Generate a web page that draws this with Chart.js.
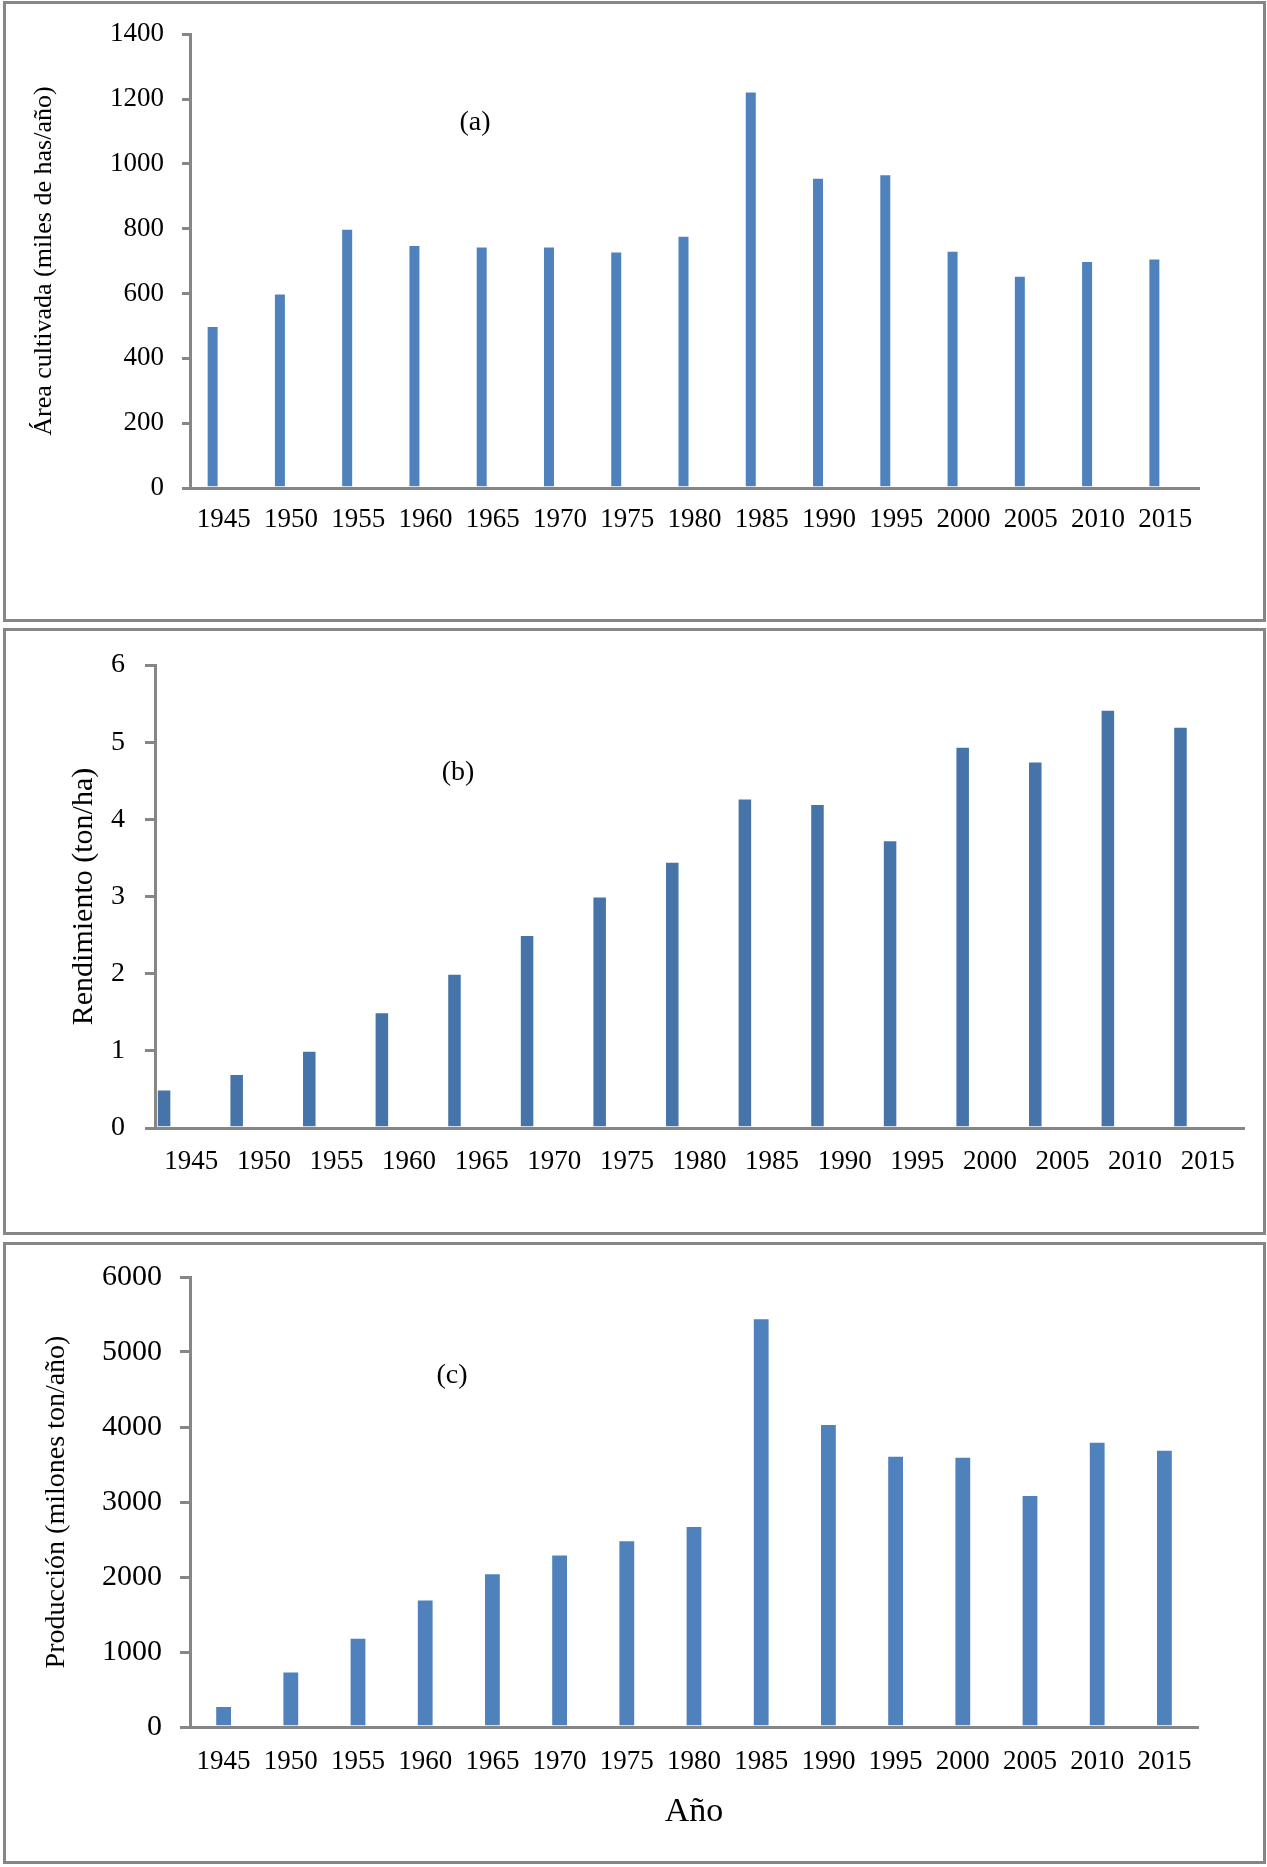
<!DOCTYPE html>
<html>
<head>
<meta charset="utf-8">
<script src="https://cdn.jsdelivr.net/npm/chart.js@4.4.1/dist/chart.umd.min.js"></script>
<style>
  html, body { margin: 0; padding: 0; background: #fff; }
  body { width: 1267px; height: 1867px; position: relative; overflow: hidden;
         font-family: "Liberation Serif", "Times New Roman", serif; }
  .box { position: absolute; border: 3px solid #868686; box-sizing: border-box; }
  canvas { position: absolute; left: 0; }
  .tag { position: absolute; font-size: 28px; transform: translate(-50%, -50%); color: #000; }
</style>
</head>
<body>
<div class="box" style="left:3px; top:1px; width:1263px; height:621px;"></div>
<div class="box" style="left:3px; top:628px; width:1263px; height:607px;"></div>
<div class="box" style="left:3px; top:1242px; width:1263px; height:622px;"></div>

<canvas id="chartA" width="1267" height="624" style="top:0px"></canvas>
<canvas id="chartB" width="1267" height="610" style="top:628px"></canvas>
<canvas id="chartC" width="1267" height="626" style="top:1241px"></canvas>

<div class="tag" style="left:475px; top:121px">(a)</div>
<div class="tag" style="left:458px; top:771px">(b)</div>
<div class="tag" style="left:452px; top:1374px">(c)</div>

<script>
const years = ["1945", "1950", "1955", "1960", "1965", "1970", "1975", "1980",
               "1985", "1990", "1995", "2000", "2005", "2010", "2015"];

// (a) área cultivada, miles de has/año
const areaValues = [500, 600, 800, 750, 745, 745, 730, 778, 1223, 957, 968, 732, 655, 700, 708];
// (b) rendimiento, ton/ha
const yieldValues = [0.5, 0.7, 1.0, 1.5, 2.0, 2.5, 3.0, 3.45, 4.27, 4.2, 3.73, 4.94, 4.75, 5.42, 5.2];
// (c) producción, milones ton/año
const prodValues = [280, 740, 1190, 1700, 2050, 2300, 2490, 2680, 5450, 4040, 3618, 3605, 3092, 3803, 3697];

const axisGray = "#868686";
Chart.defaults.font.family = "'Liberation Serif', 'Times New Roman', serif";
Chart.defaults.color = "#000";

function barChart(id, p) {
  // the original plots the real series next to empty ones, so bars sit left of the label
  const datasets = [{
    data: p.values,
    backgroundColor: p.color,
    borderColor: "rgba(255,255,255,0.45)",
    borderWidth: 1,
    categoryPercentage: p.catPct,
    barPercentage: p.barPct
  }];
  for (let i = 1; i < p.series; i++) {
    datasets.push({ data: [], categoryPercentage: p.catPct, barPercentage: p.barPct });
  }

  const scales = {
    x: {
      grid: { display: false, drawTicks: false },
      border: { color: axisGray, width: 3 },
      ticks: { padding: p.xPad, font: { size: 27 }, maxRotation: 0, autoSkip: false },
      afterFit: (s) => { s.height = p.xHeight; }
    },
    y: {
      min: 0, max: p.yMax,
      ticks: {
        stepSize: p.yStep, padding: p.yPad, font: { size: p.yFont },
        callback: (v) => String(v)   // no thousands separator
      },
      grid: { drawOnChartArea: false, drawTicks: true, tickLength: p.tickLen, color: axisGray, lineWidth: 3 },
      border: { color: axisGray, width: 3 },
      title: { display: true, text: p.yTitle, font: { size: p.yTitleFont }, padding: { top: p.yTitlePad, bottom: 0 } },
      afterFit: (s) => { s.width = p.yWidth; }
    }
  };
  if (p.xTitle) {
    scales.x.title = { display: true, text: p.xTitle, font: { size: 34 }, padding: { top: 0, bottom: p.xTitlePad } };
  }

  return new Chart(document.getElementById(id), {
    type: "bar",
    data: { labels: years, datasets: datasets },
    options: {
      responsive: false,
      animation: false,
      layout: { padding: p.padding },
      plugins: { legend: { display: false }, tooltip: { enabled: false } },
      scales: scales
    }
  });
}

barChart("chartA", {
  values: areaValues, color: "#4f81bd", series: 2, catPct: 0.654, barPct: 0.545,
  yMax: 1400, yStep: 200, yFont: 27, yPad: 18, tickLen: 8, yWidth: 190,
  yTitle: "Área cultivada (miles de has/año)", yTitleFont: 26, yTitlePad: 29,
  xPad: 16, xHeight: 100,
  padding: { top: 29, right: 68, bottom: 36, left: 0 }
});

barChart("chartB", {
  values: yieldValues, color: "#4673a8", series: 4, catPct: 1.0, barPct: 0.8,
  yMax: 6, yStep: 1, yFont: 28, yPad: 20, tickLen: 10, yWidth: 155,
  yTitle: "Rendimiento (ton/ha)", yTitleFont: 30, yTitlePad: 66,
  xPad: 18, xHeight: 80,
  padding: { top: 37, right: 23, bottom: 30, left: 0 }
});

barChart("chartC", {
  values: prodValues, color: "#4f81bd", series: 1, catPct: 0.5, barPct: 0.5,
  yMax: 6000, yStep: 1000, yFont: 30, yPad: 18, tickLen: 10, yWidth: 190,
  yTitle: "Producción (milones ton/año)", yTitleFont: 28, yTitlePad: 40,
  xPad: 19, xHeight: 130, xTitle: "Año", xTitlePad: 25,
  padding: { top: 29, right: 69, bottom: 10, left: 0 }
});
</script>
</body>
</html>
